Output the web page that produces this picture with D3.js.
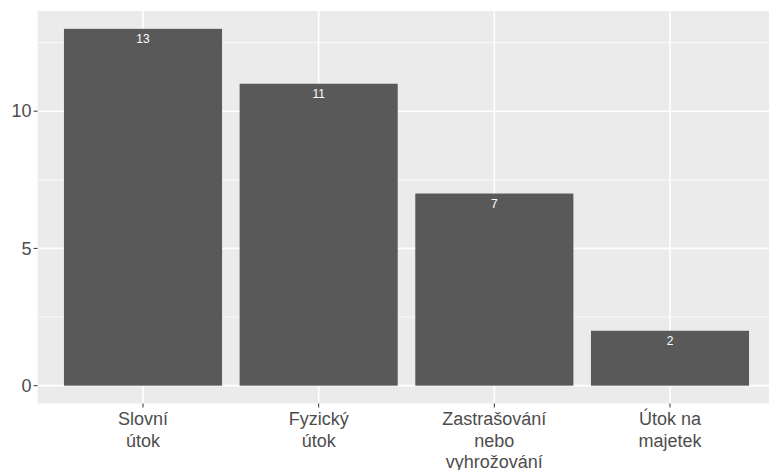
<!DOCTYPE html>
<html><head><meta charset="utf-8">
<script src="https://cdn.jsdelivr.net/npm/d3@7"></script>
<style>body{margin:0;background:#fff}svg{display:block}</style>
</head><body>
<script>
const categories = ["Slovní útok", "Fyzický útok", "Zastrašování nebo vyhrožování", "Útok na majetek"];
const labelLines = [["Slovní","útok"],["Fyzický","útok"],["Zastrašování","nebo","vyhrožování"],["Útok na","majetek"]];
const values = [13, 11, 7, 2];
const yTicks = [0, 5, 10];
const yMinor = [2.5, 7.5, 12.5];

const W = 769, H = 470;
const L = 37.6, R = 775.4, T = 11, B = 403.5;
const svg = d3.select("body").append("svg").attr("width", W).attr("height", H);

const step = (R - L) / (categories.length - 1 + 1.2);
const cx = d => L + 0.6 * step + categories.indexOf(d) * step;
const bw = 0.9 * step;
const ymax = 13 * 1.05, ymin = -13 * 0.05;
const y = d3.scaleLinear().domain([ymin, ymax]).range([B, T]);

svg.append("rect").attr("x", L).attr("y", T).attr("width", R - L).attr("height", B - T).attr("fill", "#ebebeb");
svg.selectAll(".gmin").data(yMinor).join("line")
  .attr("x1", L).attr("x2", R).attr("y1", d => y(d)).attr("y2", d => y(d))
  .attr("stroke", "#fff").attr("stroke-width", 0.8);
svg.selectAll(".gmaj").data(yTicks).join("line")
  .attr("x1", L).attr("x2", R).attr("y1", d => y(d)).attr("y2", d => y(d))
  .attr("stroke", "#fff").attr("stroke-width", 1.6);
svg.selectAll(".gx").data(categories).join("line")
  .attr("x1", d => cx(d)).attr("x2", d => cx(d)).attr("y1", T).attr("y2", B)
  .attr("stroke", "#fff").attr("stroke-width", 1.6);

svg.selectAll(".bar").data(categories).join("rect")
  .attr("x", d => cx(d) - bw / 2).attr("width", bw)
  .attr("y", (d, i) => y(values[i])).attr("height", (d, i) => y(0) - y(values[i]))
  .attr("fill", "#595959");

svg.selectAll(".val").data(categories).join("text")
  .attr("x", d => cx(d)).attr("y", (d, i) => y(values[i]) + 14.5)
  .attr("text-anchor", "middle").attr("fill", "#fff")
  .attr("font-family", "Liberation Sans, Arial, sans-serif").attr("font-size", 12)
  .text((d, i) => values[i]);

// y axis
svg.selectAll(".yt").data(yTicks).join("line")
  .attr("x1", L - 4).attr("x2", L).attr("y1", d => y(d)).attr("y2", d => y(d))
  .attr("stroke", "#333").attr("stroke-width", 1);
svg.selectAll(".yl").data(yTicks).join("text")
  .attr("x", L - 6).attr("y", d => y(d)).attr("dy", "0.35em")
  .attr("text-anchor", "end").attr("fill", "#4d4d4d")
  .attr("font-family", "Liberation Sans, Arial, sans-serif").attr("font-size", 18)
  .text(d => d);

// x axis
svg.selectAll(".xt").data(categories).join("line")
  .attr("x1", d => cx(d)).attr("x2", d => cx(d)).attr("y1", B).attr("y2", B + 4)
  .attr("stroke", "#333").attr("stroke-width", 1);
const xl = svg.selectAll(".xl").data(categories).join("text")
  .attr("text-anchor", "middle").attr("fill", "#4d4d4d")
  .attr("font-family", "Liberation Sans, Arial, sans-serif").attr("font-size", 18);
xl.each(function(d, i) {
  d3.select(this).selectAll("tspan").data(labelLines[i]).join("tspan")
    .attr("x", cx(d)).attr("y", (t, j) => 425 + j * 21.5).text(t => t);
});
</script>
</body></html>
